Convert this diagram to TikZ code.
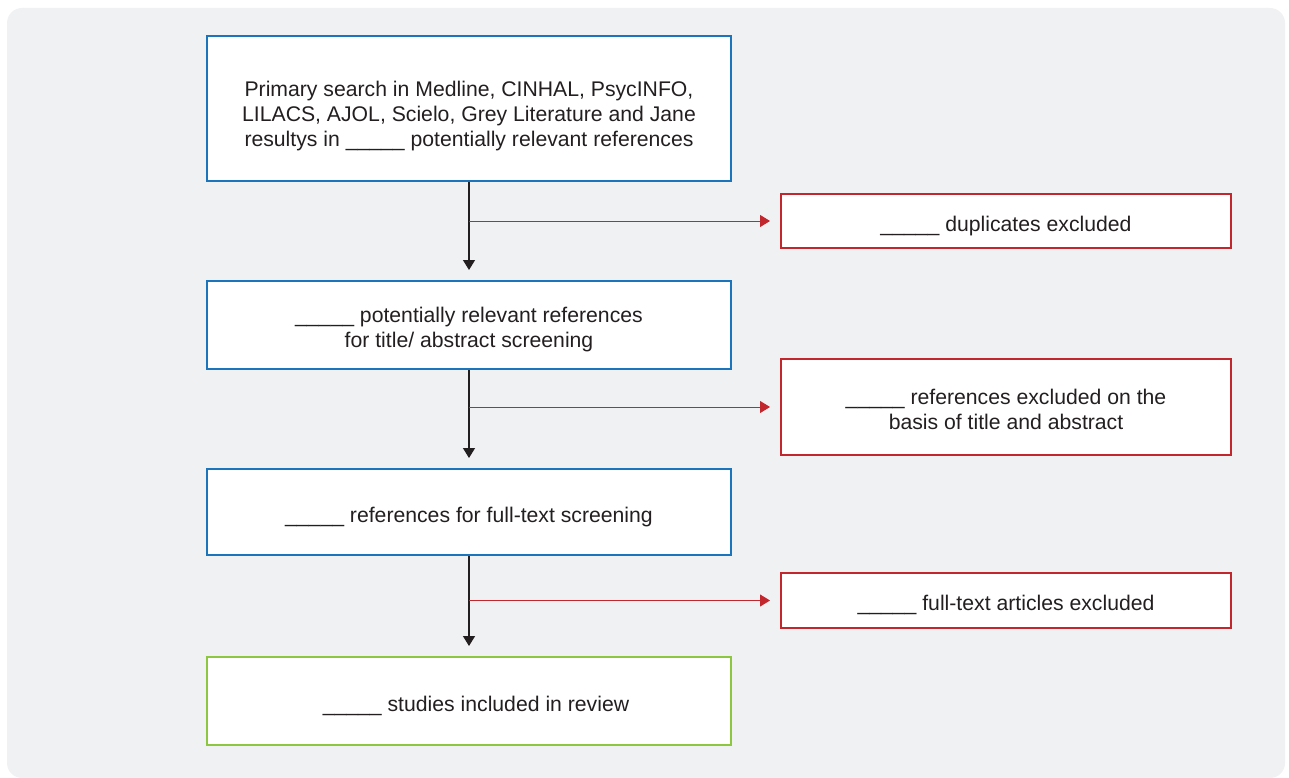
\documentclass[tikz,border=0pt]{standalone}
\usepackage{fontspec}
\setmainfont{Liberation Sans}
\usetikzlibrary{arrows.meta,calc}
\definecolor{bgc}{HTML}{F0F1F3}
\definecolor{bluec}{HTML}{1B75BC}
\definecolor{redc}{HTML}{C1272D}
\definecolor{greenc}{HTML}{8DC63F}
\definecolor{darkc}{HTML}{231F20}
\definecolor{textc}{HTML}{231F20}
\newcommand\topfix[1][24.8pt]{\rule{0pt}{#1}}
\newcommand\botfix{\rule[-4.6pt]{0pt}{4.6pt}}
\tikzset{
  box/.style={draw, line width=2pt, fill=white, minimum width=524pt, align=center, inner sep=0pt, text=textc,
    font=\fontsize{21.2}{25.1}\selectfont},
  bluebox/.style={box, draw=bluec},
  greenbox/.style={box, draw=greenc},
  redbox/.style={box, draw=redc, minimum width=450pt},
  downarrow/.style={draw=darkc, line width=1.3pt, -{Triangle[length=10pt,width=12pt]}, shorten >=10pt},
  sidearrow/.style={draw=redc, line width=1pt, -{Triangle[length=10pt,width=12pt]}, shorten >=10pt},
}
\begin{document}
\begin{tikzpicture}[x=1pt,y=-1pt]
\useasboundingbox (0,0) rectangle (1289,778);
\fill[bgc, rounded corners=15pt] (7,8) rectangle (1285,778);
\node[bluebox, minimum height=145pt] (b1) at (469,108.5) {\topfix[31.4pt]Primary search in Medline, CINHAL, PsycINFO,\\LILACS, AJOL, Scielo, Grey Literature and Jane\\resultys in \_\_\_\_\_ potentially relevant references\botfix};
\node[bluebox, minimum height=88pt] (b2) at (469,325) {\topfix\_\_\_\_\_ potentially relevant references\\for title/ abstract screening\botfix};
\node[bluebox, minimum height=86pt] (b3) at (469,512) {\topfix\_\_\_\_\_ references for full-text screening\botfix};
\node[greenbox, minimum height=88pt] (b4) at (469,701) {\topfix\hspace*{14pt}\_\_\_\_\_ studies included in review\botfix};
\node[redbox, minimum height=54pt] (r1) at (1006,221) {\topfix\_\_\_\_\_ duplicates excluded\botfix};
\node[redbox, minimum height=96pt] (r2) at (1006,407) {\topfix\_\_\_\_\_ references excluded on the\\basis of title and abstract\botfix};
\node[redbox, minimum height=55pt] (r3) at (1006,600.5) {\topfix\_\_\_\_\_ full-text articles excluded\botfix};
\coordinate (j1) at (b1.south |- r1.west);
\coordinate (j2) at (b2.south |- r2.west);
\coordinate (j3) at (b3.south |- r3.west);
\draw[downarrow] (b1.south) -- (b2.north);
\draw[downarrow] (b2.south) -- (b3.north);
\draw[downarrow] (b3.south) -- (b4.north);
\draw[sidearrow] (j1) -- (r1.west);
\draw[sidearrow] (j2) -- (r2.west);
\draw[sidearrow] (j3) -- (r3.west);
\end{tikzpicture}
\end{document}
